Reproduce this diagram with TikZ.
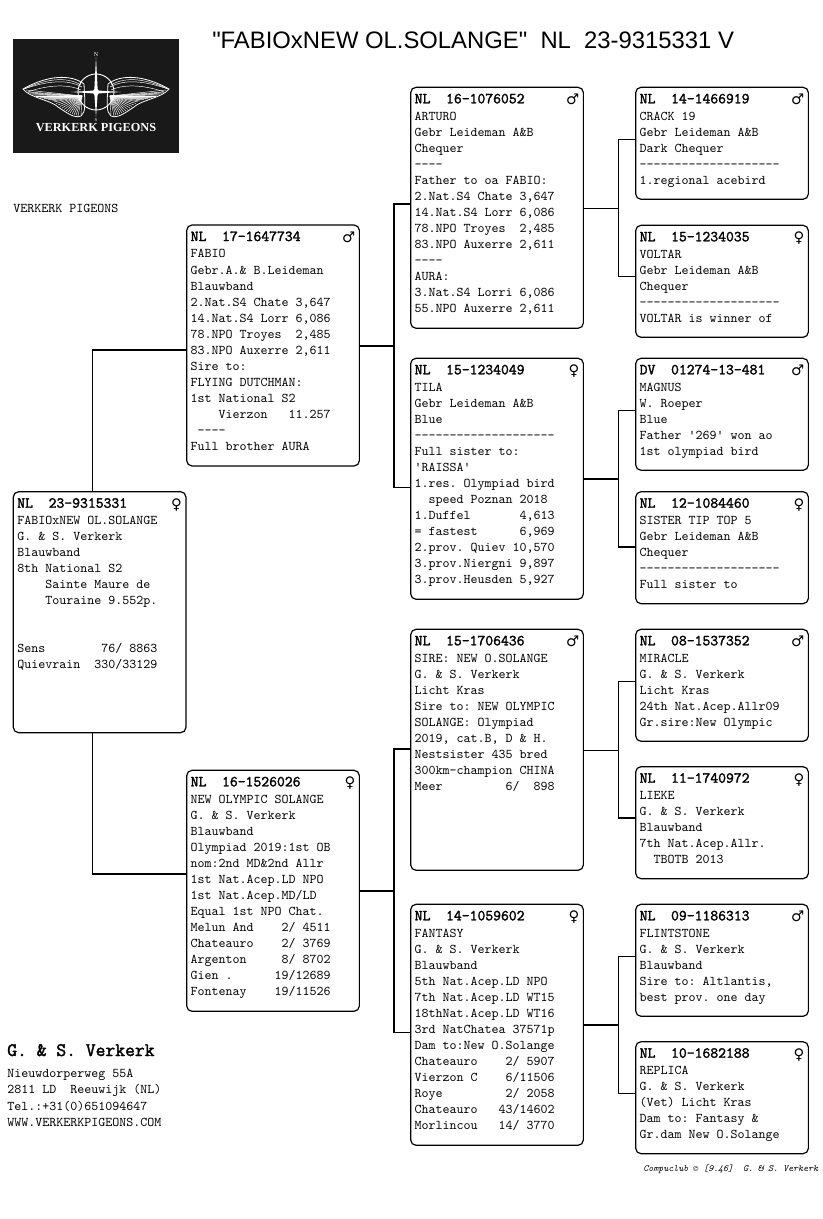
\documentclass[tikz,border=0pt]{standalone}
\usepackage{fontspec}
\newfontfamily\titlefont{Liberation Sans}
\newfontfamily\logofont{Liberation Serif}
\newfontfamily\sexfont{DejaVu Sans}
\newfontfamily\headfont{Latin Modern Mono}[FakeBold=2]
\newcommand{\sexm}{\raisebox{-1pt}{\sexfont\fontsize{11}{12}\selectfont ♂}}
\newcommand{\sexf}{\raisebox{-1pt}{\sexfont\fontsize{11}{12}\selectfont ♀}}
\newcommand{\birdhead}[2]{\rule{0pt}{12pt}{\headfont\fontsize{11.43}{12}\selectfont #1}\hfill #2\hspace*{20pt}\\[.75pt]}
\newcommand{\tallcard}[1]{\parbox[c][180.75pt][t]{123.5pt}{\frenchspacing\raggedright #1}}
\newcommand{\shortcard}[1]{\parbox[c][84pt][t]{123.5pt}{\frenchspacing\raggedright #1}}
\tikzset{
  birdbox/.style={draw, line width=.9pt, rounded corners=4pt, anchor=north west,
    inner xsep=3pt, inner ysep=0pt, outer sep=0pt,
    font=\ttfamily\fontsize{10}{12}\selectfont},
  wire/.style={line width=.9pt},
  plaintext/.style={anchor=base west, inner sep=0pt, font=\ttfamily\fontsize{10}{12}\selectfont},
  logoline/.style={white, line width=.35pt}
}
\begin{document}
\begin{tikzpicture}[x=.75pt,y=-.75pt]
  \useasboundingbox (0,0) rectangle (822,1219);

  \fill[black!90] (13,39) rectangle (179,153);
  \foreach \flip in {1,-1} {
    \begin{scope}[shift={(96,92)},xscale=\flip]
      \draw[logoline, line width=.6pt] (12,-8) .. controls (25,-18) and (48,-17) .. (73,-3)
        .. controls (66,6) and (45,8) .. (38,15) .. controls (30,20) and (22,27) .. (15,24)
        .. controls (10,20) and (11,12) .. (12,-8);
      \foreach \tipx/\tipy in {70/-2,68/0,66/1,64/2,62/3,60/4,58/5,56/5.5,54/6,52/6.5,50/7,48/7.5,46/8,44/9,42/10,40/11.5,38/13,36/14.5,34/16,32/17.5,30/19,28/20,26/21,24/22,22/23,20/23.5,18/24,15/23}
        \draw[logoline] (14,4) -- (\tipx,\tipy);
      \draw[logoline] (14,-5) .. controls (30,-14) and (52,-10) .. (72,-3);
      \draw[logoline] (15,-2) .. controls (30,-9) and (52,-6) .. (68,0);
      \draw[logoline] (15,-7) .. controls (30,-16) and (50,-13) .. (72,-3);
    \end{scope}
  }
  \begin{scope}[shift={(96,92)}]
    \draw[white, line width=.7pt] (0,0) circle [radius=18];
    \fill[white] (0,-35) -- (1.8,0) -- (0,25) -- (-1.8,0) -- cycle;
    \fill[white] (-25,0) -- (0,-1.6) -- (25,0) -- (0,1.6) -- cycle;
    \fill[white] (0,0) circle [radius=3.2];
    \node[white, inner sep=0pt, font=\logofont\fontsize{4.5}{5}\selectfont] (logon) at (0,-37.5) {N};
    \node[white, inner sep=0pt, font=\logofont\fontsize{3.5}{4}\selectfont] (logos) at (0,28) {S};
  \end{scope}
  \node[white, anchor=base, inner sep=0pt, font=\logofont\bfseries\fontsize{9.2}{10}\selectfont] (logotext) at (96,132) {VERKERK PIGEONS};

  \node[anchor=base west, inner sep=0pt, font=\titlefont\fontsize{17.88}{20}\selectfont] (title) at (212,49)
    {"FABIOxNEW OL.SOLANGE"~~NL~~23-9315331 V};
  \node[plaintext] (kennel) at (13,213) {VERKERK PIGEONS};

  \node[birdbox] (root) at (13.3,491.7) {\tallcard{\birdhead{NL~~23-9315331}{\sexf}
    FABIOxNEW OL.SOLANGE\\
    G. \& S. Verkerk\\
    Blauwband\\
    8th National S2\\
    ~~~~Sainte Maure de\\
    ~~~~Touraine 9.552p.\\
    ~\\
    ~\\
    Sens~~~~~~~~76/ 8863\\
    Quievrain~~330/33129}};

  \node[birdbox] (fabio) at (186.7,225) {\tallcard{\birdhead{NL~~17-1647734}{\sexm}
    FABIO\\
    Gebr.A.\& B.Leideman\\
    Blauwband\\
    2.Nat.S4 Chate 3,647\\
    14.Nat.S4 Lorr 6,086\\
    78.NPO Troyes~~2,485\\
    83.NPO Auxerre 2,611\\
    Sire to:\\
    FLYING DUTCHMAN:\\
    1st National S2\\
    ~~~~Vierzon~~~11.257\\
    ~----\\
    Full brother AURA}};

  \node[birdbox] (solange) at (186.7,770.3) {\tallcard{\birdhead{NL~~16-1526026}{\sexf}
    NEW OLYMPIC SOLANGE\\
    G. \& S. Verkerk\\
    Blauwband\\
    Olympiad 2019:1st OB\\
    nom:2nd MD\&2nd Allr\\
    1st Nat.Acep.LD NPO\\
    1st Nat.Acep.MD/LD\\
    Equal 1st NPO Chat.\\
    Melun And~~~~2/ 4511\\
    Chateauro~~~~2/ 3769\\
    Argenton~~~~~8/ 8702\\
    Gien .~~~~~~19/12689\\
    Fontenay~~~~19/11526}};

  \node[birdbox] (arturo) at (410.7,87.3) {\tallcard{\birdhead{NL~~16-1076052}{\sexm}
    ARTURO\\
    Gebr Leideman A\&B\\
    Chequer\\
    ----\\
    Father to oa FABIO:\\
    2.Nat.S4 Chate 3,647\\
    14.Nat.S4 Lorr 6,086\\
    78.NPO Troyes~~2,485\\
    83.NPO Auxerre 2,611\\
    ----\\
    AURA:\\
    3.Nat.S4 Lorri 6,086\\
    55.NPO Auxerre 2,611}};

  \node[birdbox] (tila) at (410.7,358.3) {\tallcard{\birdhead{NL~~15-1234049}{\sexf}
    TILA\\
    Gebr Leideman A\&B\\
    Blue\\
    --------------------\\
    Full sister to:\\
    'RAISSA'\\
    1.res. Olympiad bird\\
    ~~speed Poznan 2018\\
    1.Duffel~~~~~~~4,613\\
    = fastest~~~~~~6,969\\
    2.prov. Quiev 10,570\\
    3.prov.Niergni 9,897\\
    3.prov.Heusden 5,927}};

  \node[birdbox] (nosire) at (410.7,629.3) {\tallcard{\birdhead{NL~~15-1706436}{\sexm}
    SIRE: NEW O.SOLANGE\\
    G. \& S. Verkerk\\
    Licht Kras\\
    Sire to: NEW OLYMPIC\\
    SOLANGE: Olympiad\\
    2019, cat.B, D \& H.\\
    Nestsister 435 bred\\
    300km-champion CHINA\\
    Meer~~~~~~~~~6/~~898}};

  \node[birdbox] (fantasy) at (410.7,904.3) {\tallcard{\birdhead{NL~~14-1059602}{\sexf}
    FANTASY\\
    G. \& S. Verkerk\\
    Blauwband\\
    5th Nat.Acep.LD NPO\\
    7th Nat.Acep.LD WT15\\
    18thNat.Acep.LD WT16\\
    3rd NatChatea 37571p\\
    Dam to:New O.Solange\\
    Chateauro~~~~2/ 5907\\
    Vierzon C~~~~6/11506\\
    Roye~~~~~~~~~2/ 2058\\
    Chateauro~~~43/14602\\
    Morlincou~~~14/ 3770}};

  \node[birdbox] (crack) at (635.7,87.3) {\shortcard{\birdhead{NL~~14-1466919}{\sexm}
    CRACK 19\\
    Gebr Leideman A\&B\\
    Dark Chequer\\
    --------------------\\
    1.regional acebird}};

  \node[birdbox] (voltar) at (635.7,225.3) {\shortcard{\birdhead{NL~~15-1234035}{\sexf}
    VOLTAR\\
    Gebr Leideman A\&B\\
    Chequer\\
    --------------------\\
    VOLTAR is winner of}};

  \node[birdbox] (magnus) at (635.7,358.3) {\shortcard{\birdhead{DV~~01274-13-481}{\sexm}
    MAGNUS\\
    W. Roeper\\
    Blue\\
    Father '269' won ao\\
    1st olympiad bird}};

  \node[birdbox] (tiptop) at (635.7,491.7) {\shortcard{\birdhead{NL~~12-1084460}{\sexf}
    SISTER TIP TOP 5\\
    Gebr Leideman A\&B\\
    Chequer\\
    --------------------\\
    Full sister to}};

  \node[birdbox] (miracle) at (635.7,629.3) {\shortcard{\birdhead{NL~~08-1537352}{\sexm}
    MIRACLE\\
    G. \& S. Verkerk\\
    Licht Kras\\
    24th Nat.Acep.Allr09\\
    Gr.sire:New Olympic}};

  \node[birdbox] (lieke) at (635.7,766.7) {\shortcard{\birdhead{NL~~11-1740972}{\sexf}
    LIEKE\\
    G. \& S. Verkerk\\
    Blauwband\\
    7th Nat.Acep.Allr.\\
    ~~TBOTB 2013}};

  \node[birdbox] (flint) at (635.7,904.3) {\shortcard{\birdhead{NL~~09-1186313}{\sexm}
    FLINTSTONE\\
    G. \& S. Verkerk\\
    Blauwband\\
    Sire to: Altlantis,\\
    best prov. one day}};

  \node[birdbox] (replica) at (635.7,1041.7) {\shortcard{\birdhead{NL~~10-1682188}{\sexf}
    REPLICA\\
    G. \& S. Verkerk\\
    (Vet) Licht Kras\\
    Dam to: Fantasy \&\\
    Gr.dam New O.Solange}};

  \coordinate (fabioin) at (92.5,350);
  \coordinate (solangein) at (92.5,874);
  \draw[wire] (root.north -| fabioin) |- (fabio.west |- fabioin);
  \draw[wire] (root.south -| solangein) |- (solange.west |- solangein);

  \coordinate (fabiojn) at (394,346);
  \coordinate (arturoin) at (394,204);
  \coordinate (tilain) at (394,487.7);
  \draw[wire] (fabio.east |- fabiojn) -- (fabiojn);
  \draw[wire] (arturo.west |- arturoin) -- (arturoin) -- (tilain) -- (tila.west |- tilain);

  \coordinate (solangejn) at (394,891);
  \coordinate (nosirein) at (394,749);
  \coordinate (fantasyin) at (394,1032.3);
  \draw[wire] (solange.east |- solangejn) -- (solangejn);
  \draw[wire] (nosire.west |- nosirein) -- (nosirein) -- (fantasyin) -- (fantasy.west |- fantasyin);

  \coordinate (arturojn) at (618.3,208.3);
  \coordinate (crackin) at (618.3,139.3);
  \coordinate (voltarin) at (618.3,276.3);
  \draw[wire] (arturo.east |- arturojn) -- (arturojn);
  \draw[wire] (crack.west |- crackin) -- (crackin) -- (voltarin) -- (voltar.west |- voltarin);

  \coordinate (tilajn) at (618.3,479);
  \coordinate (magnusin) at (618.3,410.3);
  \coordinate (tiptopin) at (618.3,547);
  \draw[wire] (tila.east |- tilajn) -- (tilajn);
  \draw[wire] (magnus.west |- magnusin) -- (magnusin) -- (tiptopin) -- (tiptop.west |- tiptopin);

  \coordinate (nosirejn) at (618.3,750.3);
  \coordinate (miraclein) at (618.3,681.3);
  \coordinate (liekein) at (618.3,818);
  \draw[wire] (nosire.east |- nosirejn) -- (nosirejn);
  \draw[wire] (miracle.west |- miraclein) -- (miraclein) -- (liekein) -- (lieke.west |- liekein);

  \coordinate (fantasyjn) at (618.3,1025);
  \coordinate (flintin) at (618.3,956.3);
  \coordinate (replicain) at (618.3,1093.3);
  \draw[wire] (fantasy.east |- fantasyjn) -- (fantasyjn);
  \draw[wire] (flint.west |- flintin) -- (flintin) -- (replicain) -- (replica.west |- replicain);

  \node[plaintext, font=\headfont\fontsize{14.3}{16}\selectfont] (owner) at (7,1056) {G. \& S. Verkerk};
  \node[plaintext, anchor=north west, align=left, font=\ttfamily\fontsize{10}{12.25}\selectfont] (address) at (7,1069)
    {Nieuwdorperweg 55A\\2811 LD~~Reeuwijk (NL)\\Tel.:+31(0)651094647\\WWW.VERKERKPIGEONS.COM};
  \node[plaintext, font=\ttfamily\itshape\fontsize{7.14}{8}\selectfont] (compuclub) at (643,1171)
    {Compuclub © [9.46]~~G. \& S. Verkerk};
\end{tikzpicture}
\end{document}
